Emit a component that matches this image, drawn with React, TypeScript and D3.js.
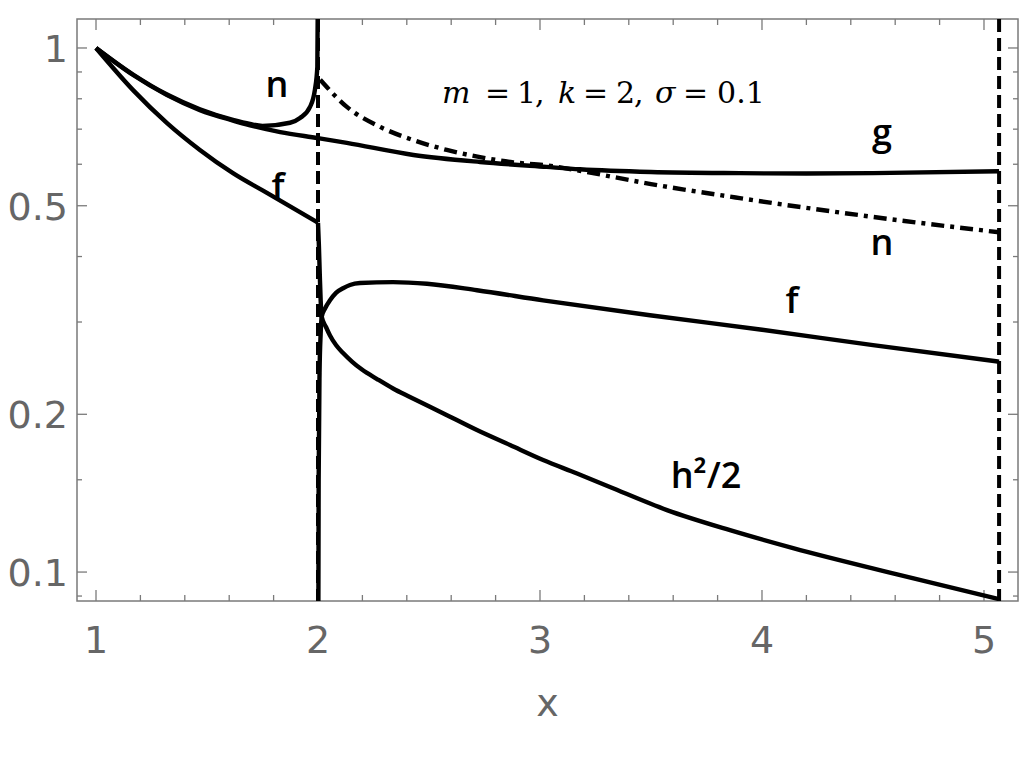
import React, { useEffect, useRef } from 'react';
import * as d3 from 'd3';

// curve samples (x, value)
const gX = [1, 1.167, 1.32, 1.468, 1.617, 1.694, 1.83, 2.0, 2.13, 2.43, 2.73, 3.03, 3.18, 3.5, 3.9, 4.2, 4.5, 5.068];
const gY = [1, 0.888, 0.813, 0.761, 0.727, 0.712, 0.691, 0.673, 0.659, 0.625, 0.606, 0.593, 0.587, 0.58, 0.577, 0.576, 0.577, 0.582];

const nLeftX = [1, 1.167, 1.32, 1.468, 1.617, 1.694, 1.75, 1.874, 1.919, 1.964, 1.986, 1.997, 1.9995];
const nLeftY = [1, 0.89, 0.815, 0.764, 0.729, 0.716, 0.71, 0.72, 0.735, 0.772, 0.832, 0.92, 1.3];

const nRightX = [2.01, 2.13, 2.28, 2.43, 2.58, 2.73, 2.88, 3.03, 3.18, 3.5, 3.9, 4.5, 5.068];
const nRightY = [0.87, 0.772, 0.707, 0.667, 0.639, 0.619, 0.605, 0.597, 0.583, 0.55, 0.517, 0.476, 0.445];

const fLeftX = [1, 1.167, 1.32, 1.468, 1.617, 1.77, 2.0];
const fLeftY = [1, 0.831, 0.719, 0.639, 0.577, 0.529, 0.464];

const fRightX = [2.0005, 2.003, 2.007, 2.012, 2.0167, 2.031, 2.054, 2.081, 2.113, 2.144, 2.189, 2.338, 2.491, 2.716, 3.014, 3.495, 4.0, 4.5, 5.068];
const fRightY = [0.05, 0.15, 0.24, 0.285, 0.307, 0.318, 0.33, 0.341, 0.348, 0.353, 0.356, 0.3575, 0.355, 0.345, 0.33, 0.309, 0.29, 0.271, 0.252];

const hX = [2.0, 2.004, 2.008, 2.012, 2.0167, 2.036, 2.054, 2.081, 2.113, 2.153, 2.198, 2.266, 2.338, 2.414, 2.563, 2.716, 2.865, 3.014, 3.167, 3.315, 3.572, 3.856, 4.14, 4.604, 5.068];
const hY = [0.464, 0.42, 0.37, 0.33, 0.307, 0.2935, 0.2827, 0.2711, 0.2617, 0.2521, 0.2434, 0.2335, 0.224, 0.2158, 0.201, 0.1866, 0.1747, 0.1636, 0.1542, 0.1453, 0.1313, 0.1202, 0.1111, 0.0991, 0.0888];

// vertical dashed asymptotes
const asymptotes = [2, 5.068];

const xMajor = [1, 2, 3, 4, 5];
const yMajor = [0.1, 0.2, 0.5, 1];
const yMinor = [0.09, 0.15, 0.3, 0.4, 0.6, 0.7, 0.8, 0.9];
const yTickLabels = ['0.1', '0.2', '0.5', '1'];

// curve labels: text, anchor x, anchor value
const labelText = ['n', 'f', 'g', 'n', 'f', 'h²/2'];
const labelX = [1.815, 1.82, 4.54, 4.54, 4.135, 3.748];
const labelY = [0.806, 0.515, 0.653, 0.403, 0.312, 0.1446];

// parameter annotation pieces
const annTokens = ['m', '=', '1', ',', 'k', '=', '2', ',', 'σ', '=', '0.1'];
const annItalic = [true, false, false, false, true, false, false, false, true, false, false];

const App = () => {
  const svgRef = useRef<SVGSVGElement | null>(null);

  useEffect(() => {
    const width = 1024;
    const height = 768;
    const margin = { top: 19, right: 6, bottom: 167, left: 77 };
    const svg = d3.select(svgRef.current).attr('width', width).attr('height', height);
    svg.selectAll('*').remove();

    const x = d3.scaleLinear().domain([0.9144, 5.1532]).range([margin.left, width - margin.right]);
    const y = d3.scaleLog().domain([0.08806, 1.1358]).range([height - margin.bottom, margin.top]);
    const axisColor = '#7a7a7a';
    const x0 = margin.left, x1 = width - margin.right;
    const y0 = height - margin.bottom, y1 = margin.top;

    svg.append('defs').append('clipPath').attr('id', 'plot')
      .append('rect').attr('x', x0).attr('y', y1).attr('width', x1 - x0).attr('height', y0 - y1);

    // frame
    svg.append('rect')
      .attr('x', x0).attr('y', y1).attr('width', x1 - x0).attr('height', y0 - y1)
      .attr('fill', 'none').attr('stroke', axisColor).attr('stroke-width', 1.5);

    // ticks on all four sides
    const xMinor = d3.range(1, 5.01, 0.2).filter((v) => Math.abs(v - Math.round(v)) > 0.01);
    const ticks = svg.append('g').attr('stroke', axisColor).attr('stroke-width', 1.3);
    const xTick = (v: number, len: number) => {
      ticks.append('line').attr('x1', x(v)).attr('x2', x(v)).attr('y1', y0).attr('y2', y0 - len);
      ticks.append('line').attr('x1', x(v)).attr('x2', x(v)).attr('y1', y1).attr('y2', y1 + len);
    };
    const yTick = (v: number, len: number) => {
      ticks.append('line').attr('x1', x0).attr('x2', x0 + len).attr('y1', y(v)).attr('y2', y(v));
      ticks.append('line').attr('x1', x1).attr('x2', x1 - len).attr('y1', y(v)).attr('y2', y(v));
    };
    xMajor.forEach((v) => xTick(v, 11));
    xMinor.forEach((v) => xTick(v, 6));
    yMajor.forEach((v) => yTick(v, 10));
    yMinor.forEach((v) => yTick(v, 5));

    // tick labels
    const tickFamily = 'DejaVu Sans, Arial, sans-serif';
    const tickColor = '#666';
    xMajor.forEach((v) => {
      svg.append('text').attr('x', x(v)).attr('y', 653).attr('text-anchor', 'middle')
        .attr('font-family', tickFamily).attr('font-size', 38).attr('fill', tickColor)
        .text(String(v));
    });
    yMajor.forEach((v, i) => {
      svg.append('text').attr('x', 68).attr('y', y(v) + 14).attr('text-anchor', 'end')
        .attr('font-family', tickFamily).attr('font-size', 38).attr('fill', tickColor)
        .text(yTickLabels[i]);
    });
    svg.append('text').attr('x', (x0 + x1) / 2).attr('y', 716).attr('text-anchor', 'middle')
      .attr('font-family', tickFamily).attr('font-size', 38).attr('fill', tickColor)
      .text('x');

    const plot = svg.append('g').attr('clip-path', 'url(#plot)');

    // dashed asymptotes
    asymptotes.forEach((a) => {
      plot.append('line').attr('x1', x(a)).attr('x2', x(a)).attr('y1', y1).attr('y2', y0)
        .attr('stroke', '#000').attr('stroke-width', 4).attr('stroke-dasharray', '13 6');
    });

    const line = d3.line<[number, number]>()
      .x((d) => x(d[0]))
      .y((d) => y(d[1]))
      .curve(d3.curveMonotoneX);

    const zip = (xs: number[], ys: number[]) => xs.map((v, i) => [v, ys[i]] as [number, number]);
    const solids = [zip(gX, gY), zip(nLeftX, nLeftY), zip(fLeftX, fLeftY), zip(fRightX, fRightY), zip(hX, hY)];
    solids.forEach((pts) => {
      plot.append('path').datum(pts).attr('d', line)
        .attr('fill', 'none').attr('stroke', '#000').attr('stroke-width', 4.4)
        .attr('stroke-linejoin', 'round');
    });
    plot.append('path').datum(zip(nRightX, nRightY)).attr('d', line)
      .attr('fill', 'none').attr('stroke', '#000').attr('stroke-width', 4.4)
      .attr('stroke-dasharray', '13 6 4 6');

    // curve labels
    labelText.forEach((t, i) => {
      svg.append('text').attr('x', x(labelX[i])).attr('y', y(labelY[i])).attr('text-anchor', 'middle')
        .attr('font-family', 'Open Sans, sans-serif').attr('font-weight', 600).attr('font-size', 36)
        .attr('fill', '#000').text(t);
    });

    // parameter annotation, laid out token by token like typeset math
    const annX = x(2.559);
    const annY = y(0.785);
    const annOffsets = [0, 43, 75, 93, 116, 141, 174, 192, 213, 241, 275];
    const ann = svg.append('g').attr('font-family', 'DejaVu Serif, Liberation Serif, serif')
      .attr('font-size', 30).attr('fill', '#000');
    annTokens.forEach((t, i) => {
      ann.append('text').attr('x', annX + annOffsets[i]).attr('y', annY)
        .attr('font-style', annItalic[i] ? 'italic' : 'normal').text(t);
    });
  }, []);

  return (
    <div style={{ position: 'absolute', left: 0, top: 0 }}>
      <svg ref={svgRef}></svg>
    </div>
  );
};

export default App;
